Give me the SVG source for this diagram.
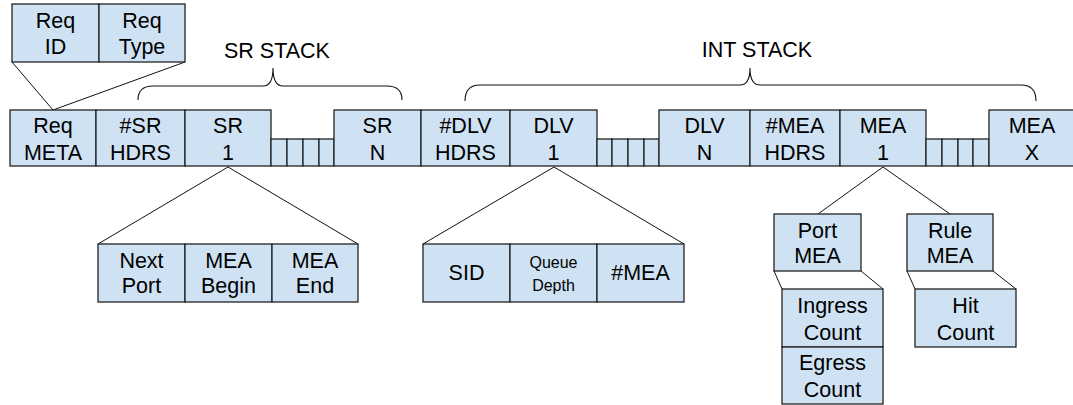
<svg xmlns="http://www.w3.org/2000/svg" width="1073" height="405" viewBox="0 0 1073 405">
  <style>
    .box { fill: #cfe2f3; stroke: #222; stroke-width: 1.3; }
    .cell { fill: #cfe2f3; stroke: #222; stroke-width: 1.3; }
    .line { fill: none; stroke: #111; stroke-width: 1; }
    .brace { fill: none; stroke: #111; stroke-width: 1.1; }
    text { font-family: "Liberation Sans", Arial, sans-serif; font-size: 21.5px; fill: #000; text-anchor: middle; }
    .small { font-size: 16px; }
  </style>
  <rect width="1073" height="405" fill="#ffffff"/>

  <!-- connectors: fan-out lines and stack braces -->
  <g id="connectors">
    <path class="line" d="M12,62 L53,110 M185,62 L53,110"/>
    <path class="line" d="M98,244 L228,167 L358,244"/>
    <path class="line" d="M423,244 L554,167 L684,244"/>
    <path class="line" d="M818,214 L883,167 L950,214"/>
    <path class="line" d="M774,271 L782,289 M861,271 L883,289"/>
    <path class="line" d="M907,271 L915,289 M993,271 L1016,289"/>
    <path class="brace" d="M138,100 Q138,86 153,86 L263,86 Q273,86 273,68 Q273,86 283,86 L387,86 Q402,86 402,100"/>
    <path class="brace" d="M465,101 Q465,85 480,85 L740,85 Q750,85 750,68 Q750,85 760,85 L1021,85 Q1036,85 1036,101"/>
  </g>

  <!-- stack labels -->
  <text x="277" y="58">SR STACK</text>
  <text x="757" y="57">INT STACK</text>

  <!-- request metadata detail -->
  <g id="req-id">
    <rect class="box" x="12" y="4" width="87" height="58"/>
    <text x="55.5" y="28">Req</text>
    <text x="55.5" y="54">ID</text>
  </g>
  <g id="req-type">
    <rect class="box" x="99" y="4" width="86" height="58"/>
    <text x="142" y="28">Req</text>
    <text x="142" y="54">Type</text>
  </g>

  <!-- main header row -->
  <g id="req-meta">
    <rect class="box" x="10" y="110" width="86" height="56"/>
    <text x="53" y="133">Req</text>
    <text x="53" y="159.5">META</text>
  </g>
  <g id="sr-hdrs">
    <rect class="box" x="96" y="110" width="89" height="56"/>
    <text x="140.5" y="133">#SR</text>
    <text x="140.5" y="159.5">HDRS</text>
  </g>
  <g id="sr-1">
    <rect class="box" x="185" y="110" width="86" height="56"/>
    <text x="228" y="133">SR</text>
    <text x="228" y="159.5">1</text>
  </g>
  <g id="sr-gap">
    <rect class="cell" x="271" y="139" width="16" height="27"/>
    <rect class="cell" x="287" y="139" width="16" height="27"/>
    <rect class="cell" x="303" y="139" width="16" height="27"/>
    <rect class="cell" x="319" y="139" width="15" height="27"/>
  </g>
  <g id="sr-n">
    <rect class="box" x="334" y="110" width="87" height="56"/>
    <text x="377.5" y="133">SR</text>
    <text x="377.5" y="159.5">N</text>
  </g>
  <g id="dlv-hdrs">
    <rect class="box" x="421" y="110" width="89" height="56"/>
    <text x="465.5" y="133">#DLV</text>
    <text x="465.5" y="159.5">HDRS</text>
  </g>
  <g id="dlv-1">
    <rect class="box" x="510" y="110" width="87" height="56"/>
    <text x="553.5" y="133">DLV</text>
    <text x="553.5" y="159.5">1</text>
  </g>
  <g id="dlv-gap">
    <rect class="cell" x="597" y="139" width="15" height="27"/>
    <rect class="cell" x="612" y="139" width="16" height="27"/>
    <rect class="cell" x="628" y="139" width="16" height="27"/>
    <rect class="cell" x="644" y="139" width="15" height="27"/>
  </g>
  <g id="dlv-n">
    <rect class="box" x="659" y="110" width="91" height="56"/>
    <text x="704.5" y="133">DLV</text>
    <text x="704.5" y="159.5">N</text>
  </g>
  <g id="mea-hdrs">
    <rect class="box" x="750" y="110" width="90" height="56"/>
    <text x="795" y="133">#MEA</text>
    <text x="795" y="159.5">HDRS</text>
  </g>
  <g id="mea-1">
    <rect class="box" x="840" y="110" width="86" height="56"/>
    <text x="883" y="133">MEA</text>
    <text x="883" y="159.5">1</text>
  </g>
  <g id="mea-gap">
    <rect class="cell" x="926" y="139" width="16" height="27"/>
    <rect class="cell" x="942" y="139" width="16" height="27"/>
    <rect class="cell" x="958" y="139" width="15" height="27"/>
    <rect class="cell" x="973" y="139" width="16" height="27"/>
  </g>
  <g id="mea-x">
    <rect class="box" x="989" y="110" width="88" height="56"/>
    <text x="1032" y="133">MEA</text>
    <text x="1032" y="159.5">X</text>
  </g>

  <!-- SR entry fields -->
  <g id="next-port">
    <rect class="box" x="98" y="244" width="87" height="58"/>
    <text x="141.5" y="268">Next</text>
    <text x="141.5" y="293">Port</text>
  </g>
  <g id="mea-begin">
    <rect class="box" x="185" y="244" width="87" height="58"/>
    <text x="228.5" y="268">MEA</text>
    <text x="228.5" y="293">Begin</text>
  </g>
  <g id="mea-end">
    <rect class="box" x="272" y="244" width="86" height="58"/>
    <text x="315" y="268">MEA</text>
    <text x="315" y="293">End</text>
  </g>

  <!-- DLV entry fields -->
  <g id="sid">
    <rect class="box" x="423" y="244" width="87" height="58"/>
    <text x="466.5" y="280">SID</text>
  </g>
  <g id="queue-depth">
    <rect class="box" x="510" y="244" width="87" height="58"/>
    <text class="small" x="553.5" y="268">Queue</text>
    <text class="small" x="553.5" y="291">Depth</text>
  </g>
  <g id="num-mea">
    <rect class="box" x="597" y="244" width="87" height="58"/>
    <text x="640.5" y="280">#MEA</text>
  </g>

  <!-- MEA variants -->
  <g id="port-mea">
    <rect class="box" x="774" y="214" width="87" height="57"/>
    <text x="817.5" y="238">Port</text>
    <text x="817.5" y="263">MEA</text>
  </g>
  <g id="rule-mea">
    <rect class="box" x="907" y="214" width="86" height="57"/>
    <text x="950" y="238">Rule</text>
    <text x="950" y="263">MEA</text>
  </g>
  <g id="ingress-count">
    <rect class="box" x="782" y="289" width="101" height="58"/>
    <text x="832.5" y="313">Ingress</text>
    <text x="832.5" y="340">Count</text>
  </g>
  <g id="egress-count">
    <rect class="box" x="782" y="347" width="101" height="57"/>
    <text x="832.5" y="370">Egress</text>
    <text x="832.5" y="396.5">Count</text>
  </g>
  <g id="hit-count">
    <rect class="box" x="915" y="289" width="101" height="58"/>
    <text x="965.5" y="313">Hit</text>
    <text x="965.5" y="340">Count</text>
  </g>
</svg>
